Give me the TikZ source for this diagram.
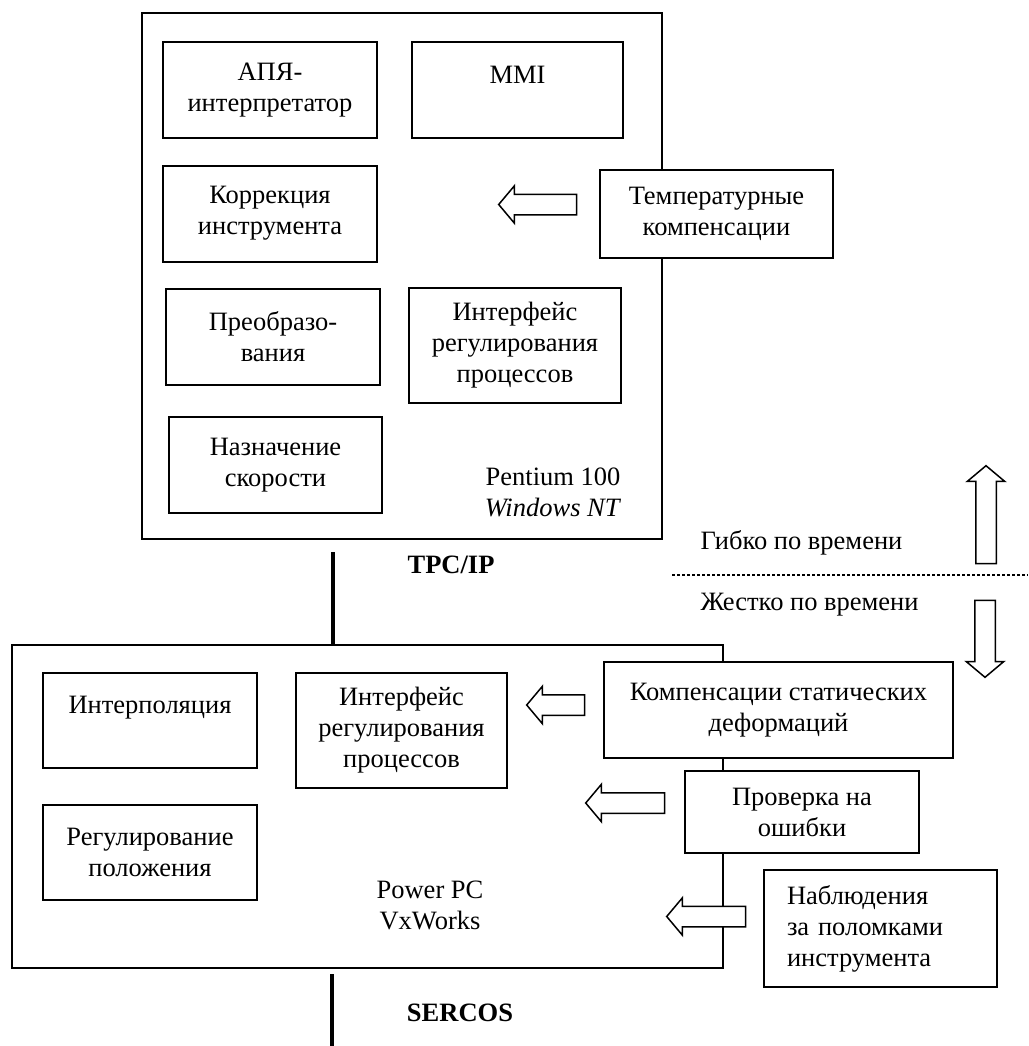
\documentclass[tikz,border=0pt]{standalone}
\usepackage{fontspec}
\setmainfont{Liberation Serif}
\usepackage{tikz}
\usetikzlibrary{positioning,shapes.arrows}

\begin{document}
\begin{tikzpicture}[x=1pt,y=-1pt,font=\fontsize{26.5}{31}\selectfont,
 frame/.style={draw,line width=2pt,inner sep=0pt},
 b/.style={draw,line width=2pt,fill=white,align=center,inner sep=0pt,minimum width=214pt,minimum height=96pt},
 larr/.style={single arrow,draw,line width=1.5pt,fill=white,inner sep=9.5pt,
   single arrow head extend=8.5pt,single arrow tip angle=100,shape border rotate=180},
 bus/.style={line width=3.2pt}]
 \useasboundingbox(0,0)rectangle(1028,1046);
 % two computers
 \node[frame,minimum width=520pt,minimum height=526pt](pent) at (402,276){};
 \node[frame,minimum width=711pt,minimum height=323pt](ppc) at (367.5,806.5){};
 % upper level
 \node[b](apya) at (270,90){АПЯ-\\интерпретатор};
 \node[b,minimum width=211pt](mmi) at (517.5,90){MMI\\~};
 \node[b](korr) at (270,213.5){Коррекция\\инструмента};
 \node[b](preob) at (273,336.5){Преобразо-\\вания};
 \node[b,minimum width=212pt,minimum height=115pt](intf1) at (515,345.5){Интерфейс\\регулирования\\процессов};
 \node[b,minimum width=213pt](nazn) at (275.5,465){Назначение\\скорости};
 \node[align=center](cpu1) at (553,492){Pentium 100\\\textit{Windows NT}};
 \node[b,minimum width=233pt,minimum height=88pt](temp) at (716.5,214){Температурные\\компенсации};
 \node[larr,minimum height=78pt](a1) at (542,204.5){};
 % network
 \coordinate(tcpTop) at (333,552);
 \draw[bus](tcpTop)--(tcpTop |- ppc.north);
 \node(tcp) at (451,565){\textbf{TPC/IP}};
 \coordinate(sepL) at (672,575);
 \coordinate(sepR) at (1028,575);
 \draw[line width=2.5pt,dash pattern=on 2.5pt off 2.5pt](sepL)--(sepR);
 \node[anchor=west](flex) at (697,543){Гибко по времени};
 \node[anchor=west](hard) at (697,605){Жестко по времени};
 \node[larr,minimum height=98pt,shape border rotate=90](up) at (986,519){};
 \node[larr,minimum height=77pt,shape border rotate=270](down) at (985,634.5){};
 % lower level
 \node[b,minimum height=95pt](interp) at (150,720.5){Интерполяция\\~};
 \node[b,minimum width=211pt,minimum height=115pt](intf2) at (401.5,730.5){Интерфейс\\регулирования\\процессов};
 \node[b,minimum height=95pt](regpol) at (150,852.5){Регулирование\\положения};
 \node[align=center](cpu2) at (430,905){Power PC\\VxWorks};
 \node[b,minimum width=349pt](komp) at (778.5,710){Компенсации статических\\деформаций};
 \node[b,minimum width=234pt,minimum height=82pt](prov) at (802,812){Проверка на\\ошибки};
 \node[b,align=left,minimum width=0pt,text width=187pt,inner xsep=23pt,minimum height=117pt](nabl) at (880.5,928.5){Наблюдения\\за поломками\\инструмента};
 \node[larr,minimum height=58pt](a2) at (560,705){};
 \node[larr,minimum height=79pt](a3) at (629.5,803){};
 \node[larr,minimum height=79pt](a4) at (710.5,916.5){};
 \coordinate(serBot) at (332,1046);
 \draw[bus]([yshift=-5pt]serBot |- ppc.south)--(serBot);
 \node(sercos) at (460,1013){\textbf{SERCOS}};
\end{tikzpicture}
\end{document}
